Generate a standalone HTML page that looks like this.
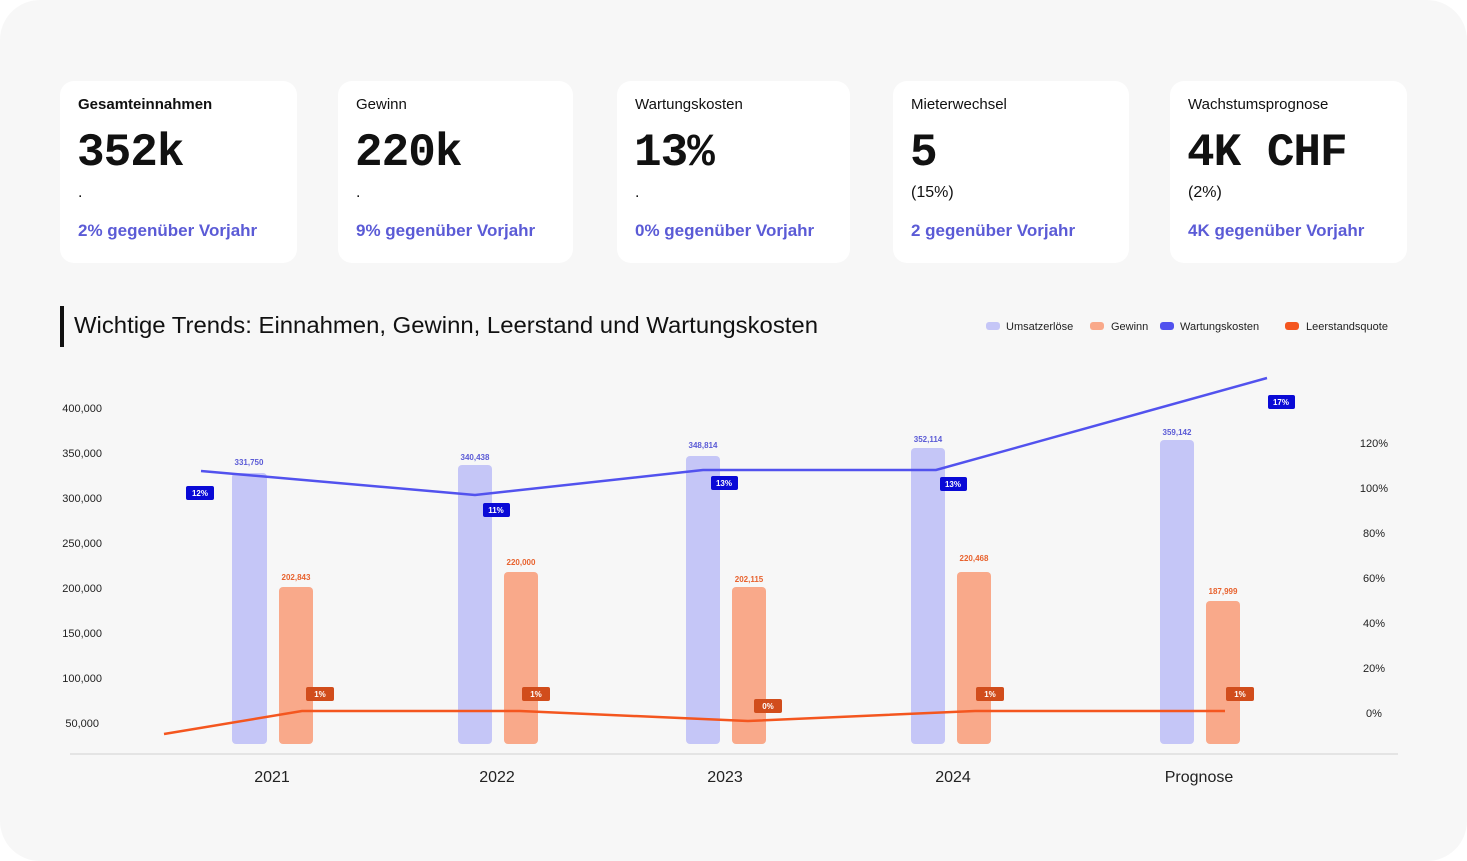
<!DOCTYPE html>
<html><head><meta charset="utf-8"><style>
body{margin:0;width:1467px;height:861px;background:#fff;font-family:"Liberation Sans",sans-serif;overflow:hidden}
.bg{position:absolute;left:0;top:0;width:1467px;height:861px;background:#f7f7f7;border-radius:40px}
.card{position:absolute;top:81px;height:182px;background:#fff;border-radius:14px}
.card .t{position:absolute;left:18px;top:15px;font-size:15px;color:#111}
.card .v{position:absolute;left:17px;top:46px;font-family:"Liberation Mono",monospace;font-size:46px;font-weight:bold;color:#111;letter-spacing:-1px}
.card .d{position:absolute;left:18px;top:103px;font-size:16px;color:#111}
.card .s{position:absolute;left:18px;top:140px;font-size:17px;font-weight:bold;color:#5b5bd6}
</style></head><body>
<div class="bg"></div>
<div class="card" style="left:60px;width:237px"><div class="t" style="font-weight:bold">Gesamteinnahmen</div><div class="v">352k</div><div class="d">.</div><div class="s">2% gegenüber Vorjahr</div></div>
<div class="card" style="left:338px;width:235px"><div class="t">Gewinn</div><div class="v">220k</div><div class="d">.</div><div class="s">9% gegenüber Vorjahr</div></div>
<div class="card" style="left:617px;width:233px"><div class="t">Wartungskosten</div><div class="v">13%</div><div class="d">.</div><div class="s">0% gegenüber Vorjahr</div></div>
<div class="card" style="left:893px;width:236px"><div class="t">Mieterwechsel</div><div class="v">5</div><div class="d">(15%)</div><div class="s">2 gegenüber Vorjahr</div></div>
<div class="card" style="left:1170px;width:237px"><div class="t">Wachstumsprognose</div><div class="v">4K CHF</div><div class="d">(2%)</div><div class="s">4K gegenüber Vorjahr</div></div>
<svg width="1467" height="861" style="position:absolute;left:0;top:0" font-family="Liberation Sans, sans-serif">
<rect x="60" y="306" width="4" height="41" fill="#111"/>
<text x="74" y="333" font-size="23" fill="#111" textLength="744" lengthAdjust="spacingAndGlyphs">Wichtige Trends: Einnahmen, Gewinn, Leerstand und Wartungskosten</text>
<g font-size="11" fill="#222">
<rect x="986" y="322" width="14" height="8" rx="3" fill="#c5c6f7"/><text x="1006" y="330">Umsatzerlöse</text>
<rect x="1090" y="322" width="14" height="8" rx="3" fill="#f9a98a"/><text x="1111" y="330">Gewinn</text>
<rect x="1160" y="322" width="14" height="8" rx="3" fill="#5252ee"/><text x="1180" y="330">Wartungskosten</text>
<rect x="1285" y="322" width="14" height="8" rx="3" fill="#f4561f"/><text x="1306" y="330">Leerstandsquote</text>
</g>
<g font-size="11" fill="#222" text-anchor="end">
<text x="102" y="412">400,000</text><text x="102" y="457">350,000</text><text x="102" y="502">300,000</text><text x="102" y="547">250,000</text><text x="102" y="592">200,000</text><text x="102" y="637">150,000</text><text x="102" y="682">100,000</text><text x="99" y="727">50,000</text>
</g>
<g font-size="11" fill="#222" text-anchor="middle">
<text x="1374" y="447">120%</text><text x="1374" y="492">100%</text><text x="1374" y="537">80%</text><text x="1374" y="582">60%</text><text x="1374" y="627">40%</text><text x="1374" y="672">20%</text><text x="1374" y="717">0%</text>
</g>
<line x1="70" y1="754" x2="1398" y2="754" stroke="#ddd" stroke-width="1.5"/>
<g font-size="16" fill="#222" text-anchor="middle">
<text x="272" y="782">2021</text><text x="497" y="782">2022</text><text x="725" y="782">2023</text><text x="953" y="782">2024</text><text x="1199" y="782">Prognose</text>
</g>
<g fill="#c5c6f7">
<rect x="232" y="473" width="35" height="271" rx="4"/><rect x="458" y="465" width="34" height="279" rx="4"/><rect x="686" y="456" width="34" height="288" rx="4"/><rect x="911" y="448" width="34" height="296" rx="4"/><rect x="1160" y="440" width="34" height="304" rx="4"/>
</g>
<g fill="#f9a98a">
<rect x="279" y="587" width="34" height="157" rx="4"/><rect x="504" y="572" width="34" height="172" rx="4"/><rect x="732" y="587" width="34" height="157" rx="4"/><rect x="957" y="572" width="34" height="172" rx="4"/><rect x="1206" y="601" width="34" height="143" rx="4"/>
</g>
<g font-size="8" font-weight="bold" text-anchor="middle" fill="#5b5bd6">
<text x="249" y="465">331,750</text><text x="475" y="460">340,438</text><text x="703" y="448">348,814</text><text x="928" y="442">352,114</text><text x="1177" y="435">359,142</text>
</g>
<g font-size="8" font-weight="bold" text-anchor="middle" fill="#e8622e">
<text x="296" y="580">202,843</text><text x="521" y="565">220,000</text><text x="749" y="582">202,115</text><text x="974" y="561">220,468</text><text x="1223" y="594">187,999</text>
</g>
<polyline points="201,471 475,495 703,470 936,470 1267,378" fill="none" stroke="#5252ee" stroke-width="2.5"/>
<polyline points="164,734 302,711 520,711 748,721 975,711 1225,711" fill="none" stroke="#f4561f" stroke-width="2.5"/>
<g font-size="8" font-weight="bold" fill="#fff" text-anchor="middle">
<rect x="186" y="486" width="28" height="14" rx="2" fill="#0a0ad6"/><text x="200" y="496">12%</text>
<rect x="483" y="503" width="27" height="14" rx="2" fill="#0a0ad6"/><text x="496" y="513">11%</text>
<rect x="711" y="476" width="27" height="14" rx="2" fill="#0a0ad6"/><text x="724" y="486">13%</text>
<rect x="940" y="477" width="27" height="14" rx="2" fill="#0a0ad6"/><text x="953" y="487">13%</text>
<rect x="1268" y="395" width="27" height="14" rx="2" fill="#0a0ad6"/><text x="1281" y="405">17%</text>
<rect x="306" y="687" width="28" height="14" rx="2" fill="#d14d1c"/><text x="320" y="697">1%</text>
<rect x="522" y="687" width="28" height="14" rx="2" fill="#d14d1c"/><text x="536" y="697">1%</text>
<rect x="754" y="699" width="28" height="14" rx="2" fill="#d14d1c"/><text x="768" y="709">0%</text>
<rect x="976" y="687" width="28" height="14" rx="2" fill="#d14d1c"/><text x="990" y="697">1%</text>
<rect x="1226" y="687" width="28" height="14" rx="2" fill="#d14d1c"/><text x="1240" y="697">1%</text>
</g>
</svg>
</body></html>
